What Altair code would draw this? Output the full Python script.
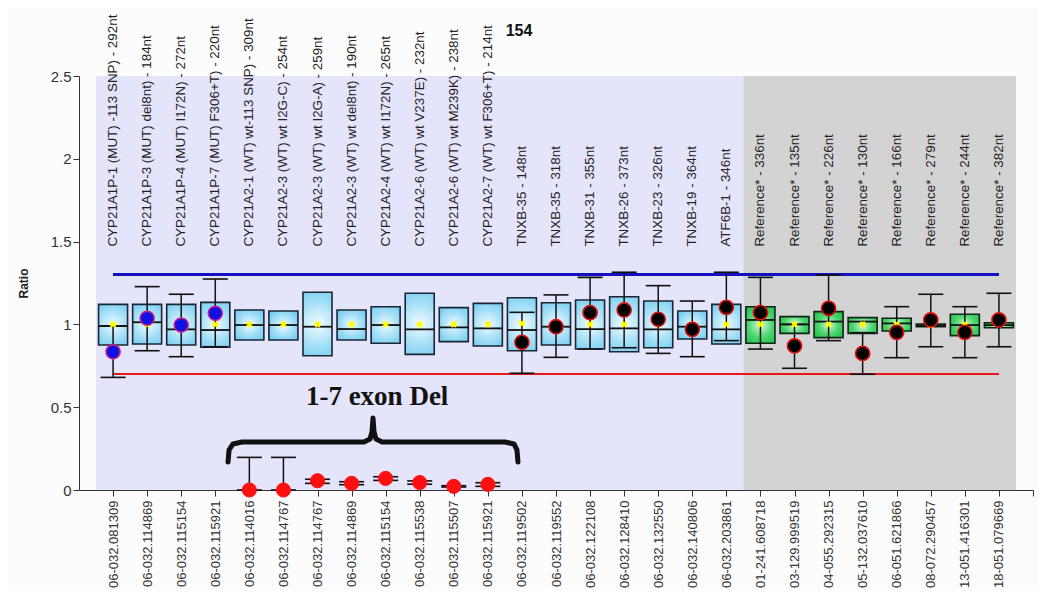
import altair as alt
import pandas as pd

TOP_LABELS = [
    "CYP21A1P-1 (MUT) -113 SNP) - 292nt", "CYP21A1P-3 (MUT) del8nt) - 184nt",
    "CYP21A1P-4 (MUT) I172N) - 272nt", "CYP21A1P-7 (MUT) F306+T) - 220nt",
    "CYP21A2-1 (WT) wt-113 SNP) - 309nt", "CYP21A2-3 (WT) wt I2G-C) - 254nt",
    "CYP21A2-3 (WT) wt I2G-A) - 259nt", "CYP21A2-3 (WT) wt del8nt) - 190nt",
    "CYP21A2-4 (WT) wt I172N) - 265nt", "CYP21A2-6 (WT) wt V237E) - 232nt",
    "CYP21A2-6 (WT) wt M239K) - 238nt", "CYP21A2-7 (WT) wt F306+T) - 214nt",
    "TNXB-35 - 148nt", "TNXB-35 - 318nt", "TNXB-31 - 355nt", "TNXB-26 - 373nt",
    "TNXB-23 - 326nt", "TNXB-19 - 364nt", "ATF6B-1 - 346nt",
    "Reference* - 336nt", "Reference* - 135nt", "Reference* - 226nt",
    "Reference* - 130nt", "Reference* - 166nt", "Reference* - 279nt",
    "Reference* - 244nt", "Reference* - 382nt",
]
BOTTOM_LABELS = [
    "06-032.081309", "06-032.114869", "06-032.115154", "06-032.115921",
    "06-032.114016", "06-032.114767", "06-032.114767", "06-032.114869",
    "06-032.115154", "06-032.115538", "06-032.115507", "06-032.115921",
    "06-032.119502", "06-032.119552", "06-032.122108", "06-032.128410",
    "06-032.132550", "06-032.140806", "06-032.203861", "01-241.608718",
    "03-129.999519", "04-055.292315", "05-132.037610", "06-051.621866",
    "08-072.290457", "13-051.416301", "18-051.079669",
]
GROUP = ["probe"] * 19 + ["ref"] * 8
BOX_LO = [0.876, 0.882, 0.876, 0.862, 0.906, 0.906, 0.811, 0.906, 0.886, 0.819,
          0.896, 0.870, 0.841, 0.876, 0.851, 0.835, 0.859, 0.912, 0.882,
          0.886, 0.946, 0.920, 0.946, 0.960, 0.986, 0.932, 0.980]
BOX_HI = [1.121, 1.121, 1.121, 1.133, 1.087, 1.081, 1.194, 1.087, 1.107, 1.188,
          1.101, 1.127, 1.161, 1.131, 1.147, 1.167, 1.141, 1.081, 1.121,
          1.107, 1.047, 1.077, 1.041, 1.037, 1.002, 1.061, 1.010]
MEDIAN = [0.990, 1.013, 0.970, 0.966, 0.996, 0.996, 0.986, 0.972, 0.996, 0.970,
          0.982, 0.976, 0.966, 0.986, 0.972, 0.976, 0.970, 0.986, 0.970,
          1.027, 1.000, 1.017, 1.017, 1.006, 0.994, 0.996, 0.996]
MEAN = [1.0, 1.0, 1.0, 1.0, 1.0, 1.0, 1.0, 1.0, 1.0, 1.0, 1.0, 1.0, 1.006, 1.0,
        1.0, 1.0, 1.0, 1.0, 1.0, 1.0, 1.0, 1.0, 1.0, 1.0, 0.994, 1.0, 1.0]
SAMPLE = [0.835, 1.037, 0.996, 1.067, 0.0, 0.0, 0.056, 0.040, 0.070, 0.045,
          0.022, 0.034, 0.892, 0.986, 1.071, 1.087, 1.031, 0.970, 1.103,
          1.071, 0.870, 1.097, 0.825, 0.952, 1.027, 0.952, 1.027]
WHISK_LO = [0.680, 0.841, 0.805, 0.865, 0.0, 0.0, 0.040, 0.032, 0.058, 0.035,
            0.018, 0.022, 0.705, 0.801, 0.851, 0.859, 0.825, 0.805, 0.902,
            0.851, 0.735, 0.902, 0.699, 0.799, 0.865, 0.799, 0.865]
WHISK_HI = [0.990, 1.228, 1.182, 1.274, 0.197, 0.197, 0.065, 0.050, 0.080, 0.055,
            0.026, 0.044, 1.073, 1.178, 1.284, 1.315, 1.234, 1.141, 1.315,
            1.284, 1.000, 1.298, 0.950, 1.107, 1.182, 1.107, 1.188]
KIND = ["blue"] * 4 + ["red"] * 8 + ["black"] * 15

UPPER_LIMIT = 1.3
LOWER_LIMIT = 0.7
ANNOT_TEXT = "1-7 exon Del"
ANNOT_POS = (8.75, 0.513)
BRACE_X = [4.374, 4.404, 4.521, 4.785, 8.365, 8.541, 8.600, 8.629, 8.659, 8.717,
           8.893, 12.502, 12.766, 12.854, 12.884]
BRACE_Y = [0.169, 0.242, 0.278, 0.290, 0.290, 0.308, 0.350, 0.435, 0.350, 0.308,
           0.290, 0.290, 0.278, 0.242, 0.169]
TITLE = "154"

n = len(TOP_LABELS)
df = pd.DataFrame({
    "idx": list(range(1, n + 1)), "top": TOP_LABELS, "bottom": BOTTOM_LABELS,
    "group": GROUP, "box_lo": BOX_LO, "box_hi": BOX_HI, "median": MEDIAN,
    "mean": MEAN, "sample": SAMPLE, "wlo": WHISK_LO, "whi": WHISK_HI, "kind": KIND,
})
brace = pd.DataFrame({"x": BRACE_X, "y": BRACE_Y, "o": list(range(len(BRACE_X)))})

FONT = "Liberation Sans"
label_arr = "[" + ",".join("'" + s + "'" for s in BOTTOM_LABELS) + "]"

xscale = alt.Scale(domain=[0, n + 1], nice=False, zero=False, padding=0)
yscale = alt.Scale(domain=[0, 2.5], nice=False, padding=0)

x_axis = alt.Axis(
    values=list(range(1, n + 2)), tickCount=n + 5, title=None, grid=False,
    labelExpr=f"datum.value <= {n} ? {label_arr}[datum.value - 1] : ''",
    labelAngle=270, labelFontSize=13, labelFont=FONT, labelColor="#333333",
    labelPadding=4, tickSize=6, tickColor="#333333", domainColor="#333333",
    labelOverlap=False, labelBound=False, labelFlush=False)
y_axis = alt.Axis(
    values=[0, 0.5, 1, 1.5, 2, 2.5], format=".1~f", title="Ratio", grid=False,
    labelFontSize=15, labelFont=FONT, labelColor="#333333", tickSize=6,
    tickColor="#333333", domainColor="#333333", titleFont=FONT, titleFontSize=12,
    titleFontWeight="bold", titleColor="#222222", titlePadding=20)

X = alt.X("idx:Q", scale=xscale, axis=x_axis)
Y = alt.Y("box_lo:Q", scale=yscale, axis=y_axis)

base = alt.Chart(df)

bg = base.transform_aggregate(
    lo="min(idx)", hi="max(idx)", groupby=["group"]
).transform_calculate(
    x1="datum.lo - 0.5", x2="datum.hi + 0.5"
).mark_rect().encode(
    x=alt.X("x1:Q", scale=xscale, axis=x_axis), x2="x2:Q",
    y=alt.datum(0, scale=yscale, axis=y_axis), y2=alt.datum(2.5),
    color=alt.Color("group:N", scale=alt.Scale(domain=["probe", "ref"],
                    range=["#e4e4fa", "#d3d3d3"]), legend=None),
)

upper = base.mark_rule(color="#1212c0", strokeWidth=2).encode(
    x=alt.datum(1, scale=xscale), x2=alt.datum(n), y=alt.datum(UPPER_LIMIT, scale=yscale))
lower = base.mark_rule(color="#e81818", strokeWidth=2).encode(
    x=alt.datum(1, scale=xscale), x2=alt.datum(n), y=alt.datum(LOWER_LIMIT, scale=yscale))

blue_grad = alt.RadialGradient(
    gradient="radial",
    stops=[alt.GradientStop(color="#f2fbff", offset=0),
           alt.GradientStop(color="#a6e0f7", offset=0.45),
           alt.GradientStop(color="#5cc3ee", offset=1)],
    x1=0.5, y1=0.5, x2=0.5, y2=0.5, r1=0, r2=0.75)
green_grad = alt.RadialGradient(
    gradient="radial",
    stops=[alt.GradientStop(color="#d8f8dc", offset=0),
           alt.GradientStop(color="#4cd66e", offset=0.45),
           alt.GradientStop(color="#10b83a", offset=1)],
    x1=0.5, y1=0.5, x2=0.5, y2=0.5, r1=0, r2=0.75)

box_blue = base.transform_filter("datum.group == 'probe'").mark_bar(
    width=29, fill=blue_grad, stroke="#1a2632", strokeWidth=1.6, opacity=1
).encode(x=X, y=Y, y2="box_hi:Q")
box_green = base.transform_filter("datum.group == 'ref'").mark_bar(
    width=29, fill=green_grad, stroke="#0e2416", strokeWidth=1.6, opacity=1
).encode(x=X, y=Y, y2="box_hi:Q")

median = base.mark_tick(orient="horizontal", size=29, thickness=1.8,
                        color="#111111", opacity=1).encode(
    x=X, y=alt.Y("median:Q", scale=yscale))
whisk = base.mark_rule(color="#111111", strokeWidth=1.5).encode(
    x=X, y=alt.Y("wlo:Q", scale=yscale), y2="whi:Q")
cap_lo = base.mark_tick(orient="horizontal", size=25, thickness=1.6,
                        color="#111111", opacity=1).encode(
    x=X, y=alt.Y("wlo:Q", scale=yscale))
cap_hi = base.mark_tick(orient="horizontal", size=25, thickness=1.6,
                        color="#111111", opacity=1).encode(
    x=X, y=alt.Y("whi:Q", scale=yscale))
mean = base.mark_point(shape="cross", angle=45, filled=True, size=45,
                       color="#ffff00", opacity=1).encode(
    x=X, y=alt.Y("mean:Q", scale=yscale))

pt_blue = base.transform_filter("datum.kind == 'blue'").mark_circle(
    size=200, fill="#1010e0", stroke="#d0208a", strokeWidth=1.5, opacity=1
).encode(x=X, y=alt.Y("sample:Q", scale=yscale))
pt_red = base.transform_filter("datum.kind == 'red'").mark_circle(
    size=200, fill="#ff1010", stroke="#ff1010", strokeWidth=1, opacity=1
).encode(x=X, y=alt.Y("sample:Q", scale=yscale))
pt_black = base.transform_filter("datum.kind == 'black'").mark_circle(
    size=200, fill="#000000", stroke="#e01010", strokeWidth=1.6, opacity=1
).encode(x=X, y=alt.Y("sample:Q", scale=yscale))

top_text = base.mark_text(angle=270, align="left", baseline="middle",
                          fontSize=13.4, font=FONT, color="#222222").encode(
    x=X, y=alt.datum(1.47, scale=yscale), text="top:N")

annot = alt.Chart(pd.DataFrame({"x": [ANNOT_POS[0]], "y": [ANNOT_POS[1]], "t": [ANNOT_TEXT]})
).mark_text(font="Liberation Serif", fontSize=27, fontWeight="bold",
            color="#111111", align="center", baseline="alphabetic").encode(
    x=alt.X("x:Q", scale=xscale), y=alt.Y("y:Q", scale=yscale), text="t:N")

brace_line = alt.Chart(brace).mark_line(
    color="#111111", strokeWidth=5, strokeCap="round", strokeJoin="round"
).encode(x=alt.X("x:Q", scale=xscale), y=alt.Y("y:Q", scale=yscale), order="o:Q")

title = alt.Chart(pd.DataFrame({"t": [TITLE]})).mark_text(
    font=FONT, fontSize=16, fontWeight="bold", color="#111111",
    align="center", baseline="middle").encode(
    x=alt.value(440), y=alt.value(-45), text="t:N")

chart = alt.layer(
    bg, upper, lower, box_blue, box_green, median, whisk, cap_lo, cap_hi,
    mean, pt_blue, pt_red, pt_black, top_text, annot, brace_line, title
).resolve_scale(color="independent").properties(
    width=954, height=414,
    autosize=alt.AutoSizeParams(type="none"),
    padding={"left": 71, "top": 68, "right": 6, "bottom": 100},
    background="#fcfcfc",
).configure_view(stroke=None)

chart.save("out.html", embed_options={"renderer": "svg", "actions": False})
